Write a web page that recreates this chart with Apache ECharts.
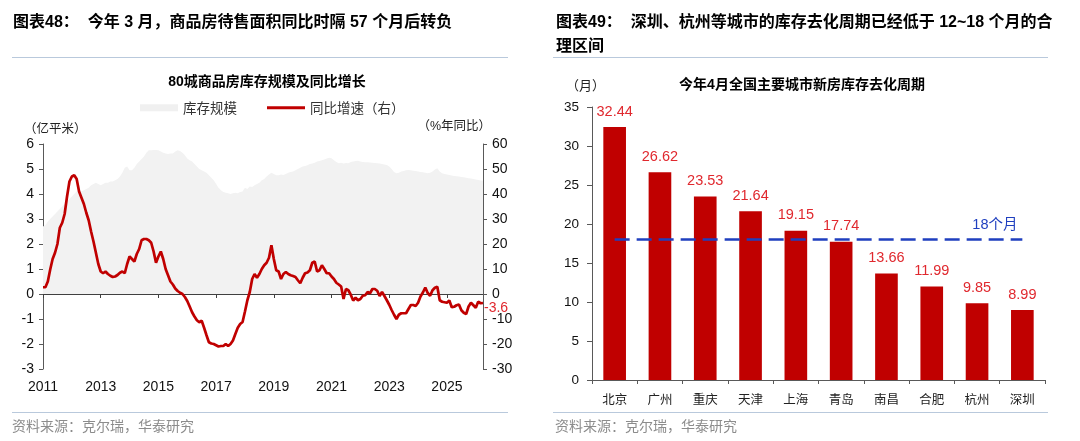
<!DOCTYPE html>
<html><head><meta charset="utf-8">
<script src="https://cdn.jsdelivr.net/npm/echarts@6/dist/echarts.min.js"></script>
<style>html,body{margin:0;padding:0;background:#fff}#c{width:1080px;height:441px}</style>
</head><body><div id="c"></div>
<script>
// ---------- Left chart data (monthly, 2011-01 .. 2026-04) ----------
const startYear = 2011;
const monthCount = 184;
const months = [];
for (let k = 0; k < monthCount; k++) {
  const y = startYear + Math.floor(k / 12), m = (k % 12) + 1;
  months.push(y + '-' + (m < 10 ? '0' + m : m));
}
// 库存规模 (亿平米, left axis)
const inventoryScale = [
  2.7, 2.75, 2.9, 3.0, 3.1, 3.2, 3.3, 3.4, 3.5, 3.6,
  3.7, 3.8, 3.9, 4.0, 4.1, 4.15, 4.1, 4.15, 4.2, 4.25,
  4.35, 4.4, 4.45, 4.4, 4.35, 4.4, 4.45, 4.45, 4.5, 4.5,
  4.55, 4.6, 4.7, 4.85, 5.05, 5.1, 4.95, 4.95, 5.05, 5.2,
  5.3, 5.4, 5.5, 5.65, 5.75, 5.75, 5.76, 5.76, 5.75, 5.7,
  5.65, 5.62, 5.6, 5.62, 5.62, 5.7, 5.75, 5.72, 5.65, 5.55,
  5.42, 5.35, 5.3, 5.2, 5.1, 5.0, 4.95, 4.9, 4.85, 4.75,
  4.65, 4.55, 4.4, 4.25, 4.15, 4.08, 4.05, 4.03, 4.0, 4.03,
  4.05, 4.03, 4.08, 4.1, 4.25, 4.2, 4.3, 4.28, 4.35, 4.4,
  4.45, 4.55, 4.6, 4.7, 4.78, 4.85, 4.8, 4.75, 4.75, 4.78,
  4.76, 4.8, 4.85, 4.88, 4.9, 4.95, 5.0, 5.05, 5.1, 5.12,
  5.15, 5.2, 5.22, 5.25, 5.3, 5.32, 5.35, 5.38, 5.42, 5.45,
  5.43, 5.35, 5.28, 5.23, 5.25, 5.22, 5.24, 5.23, 5.28, 5.3,
  5.32, 5.33, 5.3, 5.28, 5.27, 5.27, 5.26, 5.25, 5.24, 5.23,
  5.22, 5.2, 5.18, 5.16, 5.1, 5.0, 4.88, 4.83, 4.85, 4.9,
  4.92, 4.95, 4.96, 4.95, 4.93, 4.92, 4.9, 4.88, 4.87, 4.85,
  4.83, 4.85, 4.9, 4.98, 5.03, 4.9, 4.83, 4.8, 4.78, 4.76,
  4.74, 4.72, 4.71, 4.7, 4.68, 4.67, 4.65, 4.63, 4.62, 4.6,
  4.58, 4.56, 4.54, 4.53
];
// 同比增速 (%, right axis)
const yoyGrowth = [
  2.7, 2.7, 5.0, 9.8, 14, 16.5, 20, 26.5, 28.5, 32,
  39, 45, 47, 47.5, 46, 41, 38.5, 36, 32.5, 29.5,
  25, 21, 16.5, 12, 9, 8.3, 9, 8, 7.3, 6.8,
  7.0, 7.6, 8.5, 9, 8.3, 12, 15, 14, 13, 16,
  18, 21.5, 22, 22, 21.5, 20.5, 17, 12.5, 15, 17,
  14, 10, 7.5, 5, 3.8, 2.2, 1.2, 0.5, 0, -1.2,
  -2.8, -5, -7.3, -9, -10.5, -11.3, -10.7, -13.5, -16.5, -19.3,
  -19.8, -20, -20.5, -21, -20.8, -20.8, -20, -20.8, -20, -18.6,
  -16, -13.5, -12, -11.2, -7, -2.5, 0.8, 6, 8, 6.5,
  8, 10, 11.5, 12.5, 14.5, 19.5, 14, 9.5, 9, 6,
  8, 8.8, 8, 7.5, 7.2, 6.8, 5.5, 4.3, 6.5, 8.3,
  8.6, 9.5, 12.5, 13, 9, 9.5, 11.5, 10, 8.3, 8.3,
  7, 6, 4.5, 3.8, 3, -2, 2, 1.5, -0.3, -2.6,
  -1.5, -2.5, -2, -0.7, -0.5, 0.8, 0.3, 2, 2, 1.3,
  -0.8, 0.8, -0.8, -2.5, -4.3, -6.4, -8.3, -10, -8.3, -7.7,
  -7.7, -7.7, -6, -4.4, -4.4, -4.8, -3.5, -1, 0.6, 2.6,
  0.4, -0.7, 1.5, 2.5, 2.9, -2.5, -3.1, -3.3, -3.5, -2.6,
  -5.3, -5.1, -4.5, -4.2, -6.5, -7.5, -8, -5, -3.5, -4.5,
  -5.5, -3.1, -3.7, -3.6
];
const leftTicksL = [-3, 6, 1];     // min, max, interval
const rightTicksL = [-30, 60, 10];

// ---------- Right chart data ----------
const cities = ['北京', '广州', '重庆', '天津', '上海', '青岛', '南昌', '合肥', '杭州', '深圳'];
const cycleMonths = [32.44, 26.62, 23.53, 21.64, 19.15, 17.74, 13.66, 11.99, 9.85, 8.99];
const thresholdMonths = 18;
const thresholdLabel = '18个月';
const yTicksR = [0, 35, 5];

// ---------- styling ----------
const FONT = "'Liberation Sans','Noto Sans CJK SC',sans-serif";
const CJK = "'Noto Sans CJK SC','Liberation Sans',sans-serif";
const RED = '#c00000';
const LABEL_RED = '#e0282e';
const BLUE = '#1f3fbf';
const AXIS = '#595959';

function txt(text, x, y, opts) {
  opts = opts || {};
  return {
    type: 'text', silent: true,
    style: {
      text: text, x: x, y: y,
      fill: opts.fill || '#000',
      font: (opts.weight || 'normal') + ' ' + (opts.size || 13) + 'px ' + (opts.family || FONT),
      align: opts.align || 'left', verticalAlign: 'middle'
    }
  };
}
function hline(x1, x2, y) {
  return { type: 'line', silent: true, shape: { x1: x1, y1: y, x2: x2, y2: y },
           style: { stroke: '#b9c9dc', lineWidth: 1 } };
}

const chart = echarts.init(document.getElementById('c'), null, { renderer: 'canvas' });
chart.setOption({
  backgroundColor: '#fff',
  animation: false,
  textStyle: { fontFamily: FONT },
  graphic: [
    txt('图表48：  今年 3 月，商品房待售面积同比时隔 57 个月后转负', 13, 23, { weight: 'bold', size: 16 }),
    txt('图表49：  深圳、杭州等城市的库存去化周期已经低于 12~18 个月的合', 556, 23, { weight: 'bold', size: 16 }),
    txt('理区间', 556, 47, { weight: 'bold', size: 16 }),
    hline(12, 508, 57.5), hline(553, 1048, 57.5),
    hline(12, 508, 412.5), hline(553, 1048, 412.5),
    txt('资料来源：克尔瑞，华泰研究', 12, 426, { fill: '#8c8c8c', size: 14, family: CJK }),
    txt('资料来源：克尔瑞，华泰研究', 555, 426, { fill: '#8c8c8c', size: 14, family: CJK }),
    txt('80城商品房库存规模及同比增长', 267, 82, { weight: 'bold', size: 14, align: 'center' }),
    txt('今年4月全国主要城市新房库存去化周期', 802, 85, { weight: 'bold', size: 14, align: 'center' }),
    txt('（亿平米）', 24, 128, { size: 12.5, fill: '#222', family: CJK }),
    txt('（%年同比）', 491, 127, { size: 12.5, fill: '#222', align: 'right' }),
    txt('（月）', 566, 85, { size: 13, fill: '#222', family: CJK })
  ],
  legend: {
    left: 135, top: 96,
    itemWidth: 38, itemHeight: 7, itemGap: 30,
    textStyle: { fontSize: 13.5, color: '#333', fontFamily: CJK },
    data: [
      { name: '库存规模', icon: 'rect' },
      { name: '同比增速（右）', icon: 'path://M0,0H40V3H0Z' }
    ]
  },
  grid: [
    { left: 43, right: 597, top: 144, bottom: 72 },
    { left: 592, right: 35, top: 107, bottom: 61 }
  ],
  xAxis: [
    { // labels at bottom
      type: 'category', gridIndex: 0, data: months, boundaryGap: false, position: 'bottom',
      axisLine: { show: false, onZero: false }, axisTick: { show: false },
      axisLabel: { interval: 23, formatter: v => v.slice(0, 4), fontSize: 14, color: '#111', margin: 11, fontFamily: FONT }
    },
    { // zero line with ticks
      type: 'category', gridIndex: 0, data: months, boundaryGap: false, position: 'bottom',
      axisLine: { show: true, onZero: true, lineStyle: { color: '#404040', width: 1 } },
      axisTick: { show: true, interval: 23, length: 4, lineStyle: { color: '#404040' } },
      axisLabel: { show: false }, splitLine: { show: false }
    },
    {
      type: 'category', gridIndex: 1, data: cities, boundaryGap: true,
      axisLine: { show: true, lineStyle: { color: AXIS } },
      axisTick: { show: true, length: 4, lineStyle: { color: AXIS } },
      axisLabel: { fontSize: 12.5, color: '#222', margin: 13, fontFamily: CJK }
    }
  ],
  yAxis: [
    {
      type: 'value', gridIndex: 0, position: 'left',
      min: leftTicksL[0], max: leftTicksL[1], interval: leftTicksL[2],
      axisLine: { show: true, lineStyle: { color: AXIS } },
      axisTick: { show: true, length: 4, lineStyle: { color: AXIS } },
      splitLine: { show: false },
      axisLabel: { fontSize: 14, color: '#111', margin: 9 }
    },
    {
      type: 'value', gridIndex: 0, position: 'right',
      min: rightTicksL[0], max: rightTicksL[1], interval: rightTicksL[2],
      axisLine: { show: true, lineStyle: { color: AXIS } },
      axisTick: { show: true, length: 4, lineStyle: { color: AXIS } },
      splitLine: { show: false },
      axisLabel: { fontSize: 14, color: '#111', margin: 9 }
    },
    {
      type: 'value', gridIndex: 1, position: 'left',
      min: yTicksR[0], max: yTicksR[1], interval: yTicksR[2],
      axisLine: { show: true, lineStyle: { color: AXIS } },
      axisTick: { show: true, length: 5, lineStyle: { color: AXIS } },
      splitLine: { show: false },
      axisLabel: { fontSize: 13.5, color: '#111', margin: 13 }
    }
  ],
  series: [
    {
      name: '库存规模', type: 'line', xAxisIndex: 0, yAxisIndex: 0,
      data: inventoryScale, symbol: 'none', showSymbol: false,
      lineStyle: { width: 0, color: '#f0f0f0' }, itemStyle: { color: '#f0f0f0' },
      areaStyle: { color: '#f2f2f2', opacity: 1 }, z: 1
    },
    {
      name: '同比增速（右）', type: 'line', xAxisIndex: 0, yAxisIndex: 1,
      data: yoyGrowth, symbol: 'none', showSymbol: false,
      lineStyle: { width: 2.7, color: RED }, itemStyle: { color: RED }, z: 5,
      endLabel: { show: true, formatter: p => String(p.value), color: LABEL_RED, fontSize: 14, distance: 1, offset: [0, 5] }
    },
    {
      name: '去化周期', type: 'bar', xAxisIndex: 2, yAxisIndex: 2,
      data: cycleMonths, barWidth: '50%',
      itemStyle: { color: RED },
      label: { show: true, position: 'top', distance: 8, color: LABEL_RED, fontSize: 14.5, fontFamily: FONT }
    },
    {
      name: '阈值', type: 'line', xAxisIndex: 2, yAxisIndex: 2, z: 6,
      data: cities.map(() => thresholdMonths),
      symbol: 'none', showSymbol: false,
      lineStyle: { color: BLUE, width: 2.5, type: [15, 7] },
      endLabel: { show: true, formatter: thresholdLabel, color: BLUE, fontSize: 14.5, offset: [-58, -15], fontFamily: FONT }
    }
  ]
});
</script>
</body></html>
